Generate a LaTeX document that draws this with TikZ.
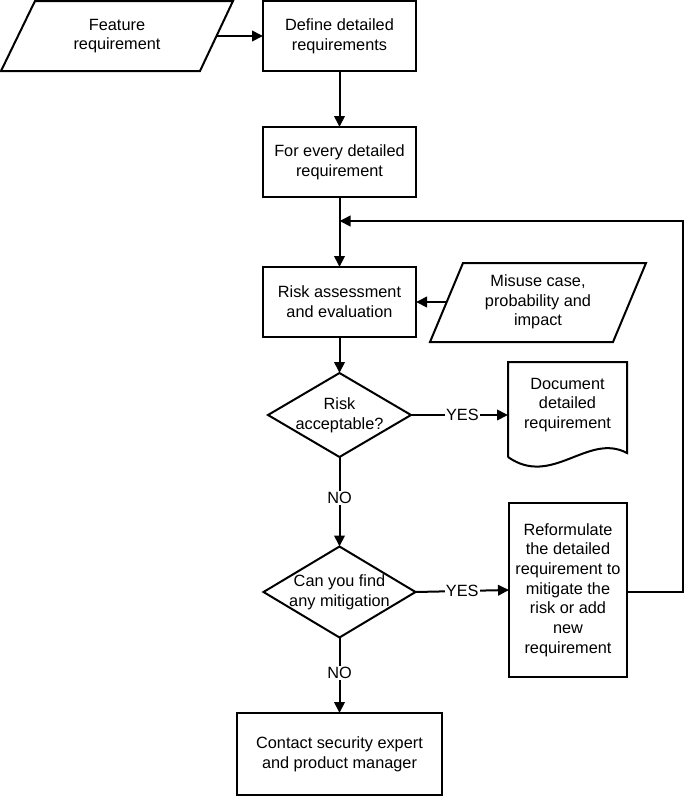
\documentclass[tikz,border=0pt]{standalone}
\usepackage{fontspec}
\setmainfont{Liberation Sans}
\usetikzlibrary{shapes.geometric,arrows.meta}
\begin{document}
\begin{tikzpicture}[x=1pt,y=-1pt,
  every node/.style={font=\fontsize{16.3pt}{19.7pt}\selectfont, align=center, inner sep=0pt, outer sep=0pt},
  line/.style={line width=2pt, line join=miter},
  arr/.style={line, -{Triangle[length=11pt,width=10.5pt]}},
  box/.style={line, draw, rectangle},
  dia/.style={line, draw, diamond},
  lbl/.style={fill=white, inner sep=1pt}
]
\useasboundingbox (0,0) rectangle (685,798);

% Feature requirement (parallelogram)
\draw[line] (35,1) -- (233,1) -- (200,71) -- (1,71) -- cycle;
\node (feat) at (117,36) {Feature\\requirement};
\coordinate (featE) at (216.5,36);

\node[box, minimum width=153pt, minimum height=70pt] (def) at (339.5,36) {Define detailed\\requirements};
\node[box, minimum width=153pt, minimum height=70pt] (every) at (339.5,162) {For every detailed\\requirement};
\node[box, minimum width=153pt, minimum height=70pt] (risk) at (339.5,302) {Risk assessment\\and evaluation};

% Misuse case (parallelogram)
\draw[line] (463,263) -- (646,263) -- (613,342) -- (430,342) -- cycle;
\node (mis) at (538,302) {Misuse case,\\probability and\\impact};
\coordinate (misW) at (447,302);

% Diamond 1
\node[dia, minimum width=143pt, minimum height=84pt] (d1) at (339.5,415) {};
\node at (d1) {Risk\\acceptable?};

% Document
\draw[line] (508,457) -- (508,362) -- (627,362) -- (627,453)
  .. controls (588,432) and (552,488) .. (508,457);
\node (doc) at (567.5,405) {Document\\detailed\\requirement};
\coordinate (docW) at (508,415);

% Diamond 2
\node[dia, minimum width=152pt, minimum height=91pt] (d2) at (339.5,592) {};
\node at (d2) {Can you find\\any mitigation};

\node[box, minimum width=118pt, minimum height=174pt] (ref) at (568,590) {Reformulate\\the detailed\\requirement to\\mitigate the\\risk or add\\new\\requirement};

\node[box, minimum width=205pt, minimum height=82pt] (contact) at (339.5,754) {Contact security expert\\and product manager};

\coordinate (loopA) at (683,592);
\coordinate (loopB) at (683,221);
\coordinate (join) at (339.5,221);

% connectors
\draw[arr] (featE) -- (def.west);
\draw[arr] (def.south) -- (every.north);
\draw[arr] (every.south) -- (risk.north);
\draw[arr] (misW) -- (risk.east);
\draw[arr] (risk.south) -- (d1.north);
\draw[arr] (d1.east) -- node[lbl, pos=0.53] {YES} (docW);
\draw[arr] (d1.south) -- node[lbl, pos=0.46] {NO} (d2.north);
\draw[arr] (d2.east) -- node[lbl, pos=0.5] {YES} (ref.west);
\draw[arr] (d2.south) -- node[lbl, pos=0.47] {NO} (contact.north);
\draw[arr] (ref.east |- loopA) -- (loopA) -- (loopB) -- (join);
\end{tikzpicture}
\end{document}
